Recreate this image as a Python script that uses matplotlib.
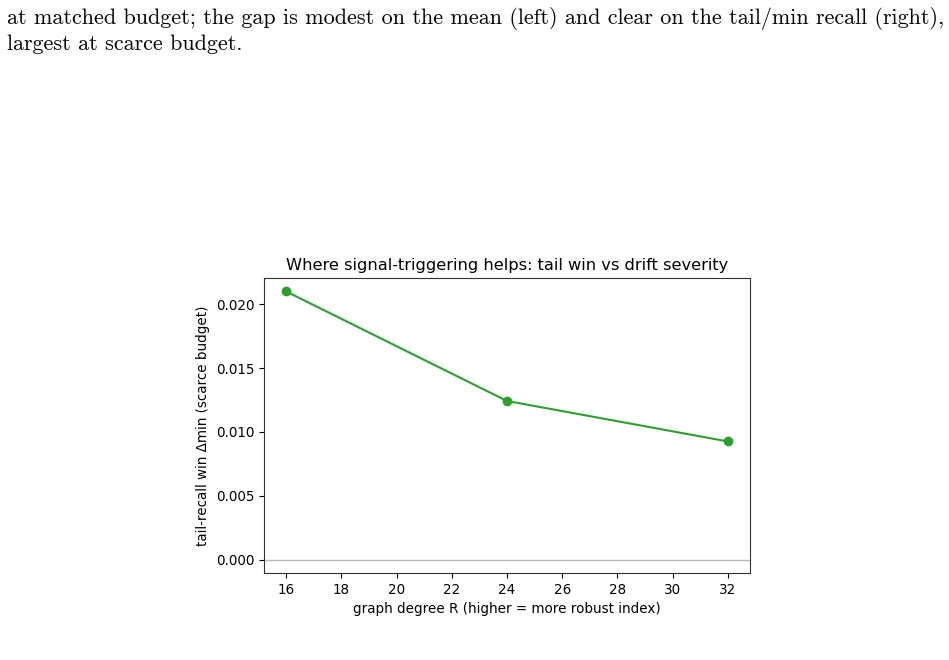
import numpy as np
import matplotlib
matplotlib.use("Agg")
import matplotlib.pyplot as plt

# data
degrees = [16, 24, 32]
tail_win = [0.0210, 0.01242, 0.00925]

caption_lines = [
    "at matched budget; the gap is modest on the mean (left) and clear on the tail/min recall (right),",
    "largest at scarce budget.",
]

plt.rcParams["font.size"] = 9.75

fig = plt.figure(figsize=(9.49, 6.6), dpi=100)

# caption text from the page above the chart
for i, line in enumerate(caption_lines):
    fig.text(7 / 949, 1 - (24 + 26 * i) / 660, line, family="cmr10",
             fontsize=15.9, ha="left", va="baseline")

ax = fig.add_axes([264 / 949, 1 - 573 / 660, (750 - 264) / 949, (573 - 278) / 660])
ax.axhline(0, color="0.72", lw=1)
ax.plot(degrees, tail_win, marker="o", color="tab:green", lw=1.5, ms=6)

ax.set_xticks(np.arange(16, 33, 2))
ax.set_xlabel("graph degree R (higher = more robust index)")
ax.set_ylabel("tail-recall win \u0394min (scarce budget)")
ax.set_title("Where signal-triggering helps: tail win vs drift severity", fontsize=11.7)
for s in ax.spines.values():
    s.set_color("0.2")

fig.savefig("out.png", dpi=100)
